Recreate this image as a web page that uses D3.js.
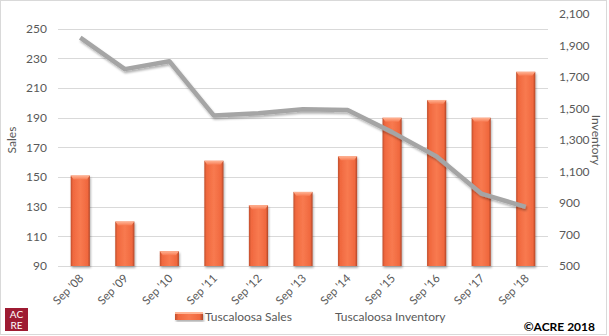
<!DOCTYPE html>
<html><head><meta charset="utf-8">
<script src="https://cdn.jsdelivr.net/npm/d3@7"></script>
<style>body{margin:0;background:#fff}svg{display:block}text{font-family:Lato,"Open Sans",sans-serif}</style>
</head><body><svg id="c" width="609" height="336"></svg>
<script>
const categories = ["Sep '08","Sep '09","Sep '10","Sep '11","Sep '12","Sep '13","Sep '14","Sep '15","Sep '16","Sep '17","Sep '18"];
const sales = [151,120,100,161,131,140,164,190,202,190,221];
const inventory = [1950,1750,1800,1455,1470,1495,1490,1350,1195,960,875];
const leftTicks = [90,110,130,150,170,190,210,230,250];
const rightTicks = [500,700,900,1100,1300,1500,1700,1900,2100];

const svg = d3.select("#c");
const m = {l:58, r:548, t:14, b:266};
const x = d3.scaleBand().domain(categories).range([m.l, m.r]).paddingInner(0.57).paddingOuter(0.285);
const yL = d3.scaleLinear().domain([90,260]).range([m.b, m.t]);
const yR = d3.scaleLinear().domain([500,2100]).range([m.b, m.t]);
const grey = "#595959";

const defs = svg.append("defs");
const g1 = defs.append("linearGradient").attr("id","barg").attr("x1",0).attr("x2",1).attr("y1",0).attr("y2",0);
[[0,"#c04e2c"],[0.12,"#f0683e"],[0.5,"#f87a50"],[0.88,"#f0683e"],[1,"#b04527"]].forEach(s=>g1.append("stop").attr("offset",s[0]).attr("stop-color",s[1]));
const g2 = defs.append("linearGradient").attr("id","capg").attr("x1",0).attr("x2",0).attr("y1",0).attr("y2",1);
[[0,"#ffb596"],[1,"#f87b52"]].forEach(s=>g2.append("stop").attr("offset",s[0]).attr("stop-color",s[1]));
const f = defs.append("filter").attr("id","sh").attr("x","-10%").attr("y","-10%").attr("width","120%").attr("height","130%");
f.append("feDropShadow").attr("dx",1).attr("dy",2).attr("stdDeviation",1.2).attr("flood-color","#000").attr("flood-opacity",0.3);

// border
svg.append("rect").attr("x",0.5).attr("y",0.5).attr("width",606).attr("height",334).attr("fill","none").attr("stroke","#d9d9d9");

// gridlines
svg.append("g").selectAll("line").data(leftTicks).join("line")
  .attr("x1",m.l).attr("x2",m.r).attr("y1",d=>Math.round(yL(d))+0.5).attr("y2",d=>Math.round(yL(d))+0.5)
  .attr("stroke","#d9d9d9").attr("stroke-width",1);

// left axis
const axL = d3.axisLeft(yL).tickValues(leftTicks).tickSize(0).tickPadding(0);
const gL = svg.append("g").attr("transform",`translate(47,0)`).call(axL);
gL.select(".domain").remove();
gL.selectAll("text").attr("fill",grey).style("font-size","12px").style("font-family","Lato,sans-serif");

// right axis
const axR = d3.axisRight(yR).tickValues(rightTicks).tickSize(0).tickPadding(0).tickFormat(d3.format(","));
const gR = svg.append("g").attr("transform",`translate(559,0)`).call(axR);
gR.select(".domain").remove();
gR.selectAll("text").attr("fill",grey).style("font-size","12px").style("font-family","Lato,sans-serif");

// bars
const bars = svg.append("g").attr("filter","url(#sh)");
categories.forEach((c,i)=>{
  const bx = x(c), bw = x.bandwidth(), by = yL(sales[i]), bh = yL(90)-by;
  bars.append("rect").attr("x",bx).attr("y",by).attr("width",bw).attr("height",bh).attr("fill","url(#barg)");
  bars.append("path").attr("d",`M${bx},${by}L${bx+bw},${by}L${bx+bw-3},${by+4}L${bx+3},${by+4}Z`).attr("fill","url(#capg)");
});

// x labels
svg.append("g").selectAll("text").data(categories).join("text")
  .attr("transform",d=>`translate(${x(d)+x.bandwidth()/2+4},279) rotate(-45)`)
  .attr("text-anchor","end").attr("fill",grey).style("font-size","11.5px").text(d=>d);

// line
const line = d3.line().x((d,i)=>x(categories[i])+x.bandwidth()/2).y(d=>yR(d));
svg.append("path").datum(inventory).attr("d",line).attr("fill","none").attr("stroke","#a5a5a5")
  .attr("stroke-width",4.5).attr("stroke-linejoin","round").attr("filter","url(#sh)");

// axis titles
svg.append("text").attr("transform","translate(16,140) rotate(-90)").attr("text-anchor","middle")
  .attr("fill",grey).style("font-size","12px").text("Sales");
svg.append("text").attr("transform","translate(592,140) rotate(90)").attr("text-anchor","middle")
  .attr("fill",grey).style("font-size","12px").text("Inventory");

// legend
const lg = svg.append("g");
lg.append("rect").attr("x",175).attr("y",312).attr("width",28).attr("height",8).attr("fill","url(#barg)").attr("filter","url(#sh)");
lg.append("rect").attr("x",175).attr("y",312).attr("width",28).attr("height",2).attr("fill","#ffb596");
lg.append("text").attr("x",205).attr("y",321).attr("fill",grey).style("font-size","12px").text("Tuscaloosa Sales");
lg.append("line").attr("x1",304).attr("x2",333).attr("y1",317).attr("y2",317).attr("stroke","#a5a5a5").attr("stroke-width",4.5).attr("filter","url(#sh)");
lg.append("text").attr("x",335).attr("y",321).attr("fill",grey).style("font-size","12px").text("Tuscaloosa Inventory");

// copyright
svg.append("text").attr("x",595).attr("y",331).attr("text-anchor","end").attr("fill","#000")
  .style("font-size","12px").style("font-weight","bold").text("©ACRE 2018");

// logo
const lo = svg.append("g");
lo.append("rect").attr("x",5).attr("y",308).attr("width",23).attr("height",23).attr("fill","#9e1b32");
lo.append("text").attr("x",16.5).attr("y",318).attr("text-anchor","middle").attr("fill","#fff").style("font-size","10px").text("AC");
lo.append("text").attr("x",16.5).attr("y",329).attr("text-anchor","middle").attr("fill","#fff").style("font-size","10px").text("RE");
</script></body></html>
